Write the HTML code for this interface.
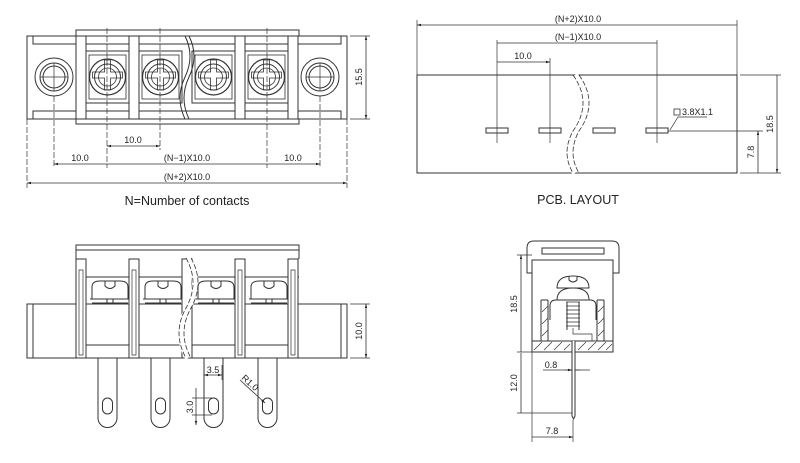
<!DOCTYPE html>
<html><head><meta charset="utf-8"><style>
html,body{margin:0;padding:0;background:#fff;width:800px;height:463px;overflow:hidden}
svg{display:block}
text{font-family:"Liberation Sans",sans-serif;fill:#222}
.d{font-size:9px}
</style></head><body>
<svg width="800" height="463" viewBox="0 0 800 463" xmlns="http://www.w3.org/2000/svg">
<defs>
<marker id="a" viewBox="0 0 10 10" refX="10" refY="5" markerWidth="7" markerHeight="5" orient="auto-start-reverse"><path d="M0,2 L10,5 L0,8z" fill="#222"/></marker>
<g id="cell">
 <rect x="0" y="0" width="43" height="52" fill="none" stroke="#333"/>
 <rect x="3" y="4" width="37" height="44" fill="none" stroke="#333" stroke-width="0.8"/>
 <circle cx="21.5" cy="26" r="18" fill="none" stroke="#333" stroke-width="1.2"/>
 <circle cx="21.5" cy="26" r="13" fill="none" stroke="#333"/>
 <circle cx="21.5" cy="26" r="9" fill="none" stroke="#333" stroke-width="0.8"/>
 <path d="M18.5,9 v12 h-12 v6 h12 v12 h6 v-12 h12 v-6 h-12 v-12z" fill="none" stroke="#333" stroke-width="0.8"/>
</g>
<g id="pin">
 <path d="M0,0 V60 a9.5,9.5 0 0 0 19,0 V0" fill="#fff" stroke="#333"/>
 <rect x="4.5" y="40" width="10" height="16" rx="5" fill="none" stroke="#333"/>
</g>
<g id="scr">
 <path d="M4,22 V10 q0,-6 8,-6 h20 q8,0 8,6 V22" fill="none" stroke="#333"/>
 <path d="M17,4 v5 q5,5 10,0 v-5" fill="none" stroke="#333"/>
 <path d="M2,22 h40 M4,26 h36" stroke="#333" fill="none"/>
 <rect x="19" y="22" width="6" height="4" fill="none" stroke="#333"/>
</g>
</defs>
<g stroke="#333" fill="none" stroke-width="1">
<!-- ===== TOP LEFT ===== -->
<rect x="76" y="30" width="223" height="94"/>
<rect x="27" y="36" width="320" height="83" fill="#fff"/>
<path d="M33,36 V44 H341 V36 M33,119 V111 H341 V119"/>
<use href="#cell" x="86" y="51"/><use href="#cell" x="139" y="51"/><use href="#cell" x="192" y="51"/><use href="#cell" x="245" y="51"/>
<g fill="#fff">
<rect x="76" y="36" width="10" height="83"/><rect x="129" y="36" width="10" height="83"/><rect x="235" y="36" width="10" height="83"/><rect x="288" y="36" width="10" height="83"/>
</g>
<circle cx="54" cy="77" r="19"/><circle cx="54" cy="77" r="14"/><circle cx="54" cy="77" r="11"/>
<circle cx="320" cy="77" r="19"/><circle cx="320" cy="77" r="14"/><circle cx="320" cy="77" r="11"/>
<path d="M185,36 q10,20 0,41 q-10,21 0,42 M189,36 q10,20 0,41 q-10,21 0,42" stroke="#333"/>
<path d="M40,77 h28 M54,63 v28 M306,77 h28 M320,63 v28" stroke-width="0.7"/>
<path d="M107,28 V168 M160,28 V150 M267,28 V168 M54,96 V168 M320,96 V168 M27,119 V188 M347,119 V188" stroke-width="0.7" stroke-dasharray="6,2"/>
<path d="M107,146 H160" marker-start="url(#a)" marker-end="url(#a)" stroke-width="0.8"/>
<path d="M54,164 H107 M107,164 H267 M267,164 H320" marker-start="url(#a)" marker-end="url(#a)" stroke-width="0.8"/>
<path d="M27,183 H347" marker-start="url(#a)" marker-end="url(#a)" stroke-width="0.8"/>
<path d="M350,36 H370 M350,119 H370"  stroke-width="0.7"/>
<path d="M366,36 V119" marker-start="url(#a)" marker-end="url(#a)" stroke-width="0.8"/>
<!-- ===== TOP RIGHT ===== -->
<rect x="417" y="75" width="320" height="98"/>
<path d="M575,75 q20,28 0,56 q-12,22 0,42" stroke="#fff" stroke-width="6"/>
<path d="M573,75 q20,28 0,56 q-12,22 0,42 M579,75 q20,28 0,56 q-12,22 0,42" stroke-dasharray="5,2" stroke-width="0.8"/>
<path d="M417,20 V75 M737,20 V75 M497,40 V143 M657,40 V143 M550,58 V143" stroke-width="0.7"/>
<path d="M417,25 H737 M497,43 H657 M497,62 H550" marker-start="url(#a)" marker-end="url(#a)" stroke-width="0.8"/>
<rect x="486" y="128" width="22" height="5"/><rect x="539" y="128" width="22" height="5"/><rect x="593" y="128" width="22" height="5"/><rect x="646" y="128" width="22" height="5"/>
<path d="M668,131 H763 M670,130 L678,117 H707 M740,75 H781 M740,173 H781" stroke-width="0.7"/>
<rect x="674" y="109" width="6" height="6" stroke-width="0.8"/>
<path d="M758,131 V173 M777,75 V173" marker-start="url(#a)" marker-end="url(#a)" stroke-width="0.8"/>
<!-- ===== BOTTOM LEFT ===== -->
<path d="M76,259 V245 H299 V259 M76,250 H299 M76,277 H299"/>
<use href="#pin" x="98" y="358"/><use href="#pin" x="151" y="358"/><use href="#pin" x="204" y="358"/><use href="#pin" x="258" y="358"/>
<rect x="27" y="304" width="320" height="54" fill="#fff"/>
<path d="M33,304 V358 M341,304 V358 M86,345 H288"/>
<use href="#scr" x="88" y="277"/><use href="#scr" x="141" y="277"/><use href="#scr" x="194" y="277"/><use href="#scr" x="247" y="277"/>
<g fill="#fff">
<rect x="76" y="259" width="10" height="99"/><rect x="129" y="259" width="10" height="99"/><rect x="182" y="259" width="10" height="99"/><rect x="235" y="259" width="10" height="99"/><rect x="288" y="259" width="10" height="99"/>
</g>
<path d="M79,270 V355 h4 V270z M132,270 V355 h4 V270z M238,270 V355 h4 V270z M291,270 V355 h4 V270z" stroke-width="0.7"/>
<path d="M188,258 q14,25 0,50 q-14,25 0,50" stroke="#fff" stroke-width="6"/>
<path d="M186,258 q14,25 0,50 q-14,25 0,50 M191,258 q14,25 0,50 q-14,25 0,50" stroke-dasharray="5,2" stroke-width="0.8"/>
<path d="M350,304 H370 M350,358 H370" stroke-width="0.7"/>
<path d="M366,304 V358" marker-start="url(#a)" marker-end="url(#a)" stroke-width="0.8"/>
<path d="M204,365 V380 M222,365 V380" stroke-width="0.7"/>
<path d="M204,375 H222" marker-start="url(#a)" marker-end="url(#a)" stroke-width="0.8"/>
<path d="M192,398 H212 M192,415 H212" stroke-width="0.7"/>
<path d="M196,388 V398 M196,415 V425" marker-end="url(#a)" stroke-width="0.8"/>
<path d="M196,398 V415" stroke-width="0.8"/>
<path d="M240,380 L265,403" marker-end="url(#a)" stroke-width="0.8"/>
<!-- ===== BOTTOM RIGHT ===== -->
<path d="M527,273 V248 q0,-7 7,-7 H612 q7,0 7,7 V273 H613 V260 H532 V273z"/>
<rect x="542" y="248" width="62" height="6"/>
<path d="M532,260 V352 H613 V260"/>
<path d="M532,341 H613 M548,300 V341 M597,300 V341 M541,300 h7 M597,300 h7 M541,300 V341 M604,300 V341"/>
<g stroke-width="0.7">
<path d="M534,350 l8,-8 M544,350 l8,-8 M554,350 l8,-8 M564,350 l6,-6 M578,350 l8,-8 M588,350 l8,-8 M598,350 l8,-8 M606,350 l6,-6 M542,312 l6,-6 M542,324 l6,-6 M542,336 l6,-6 M598,312 l6,-6 M598,324 l6,-6 M598,336 l6,-6"/>
</g>
<path d="M550,320 V306 q0,-6 6,-6 h34 q6,0 6,6 V320"/>
<path d="M557,300 q0,-12 16,-12 q16,0 16,12"/>
<path d="M557,288 q0,-12 16,-12 q16,0 16,12 z"/>
<path d="M569,276 v4 q4,4 8,0 v-4"/>
<path d="M566,302 h14 M566,306 h14 M566,310 h14 M566,314 h14 M566,318 h14 M566,322 h14 M566,326 h14" stroke-width="0.8"/>
<path d="M567,302 V330 M579,302 V330"/>
<path d="M572,341 V416 l1.5,3 l1.5,-3 V341" fill="#fff"/>
<path d="M573,328 V334 H592 V341" stroke-width="0.7"/>
<path d="M532,352 V442 M573,420 V442 M517,255 H532 M517,352 H532 M517,413 H572" stroke-width="0.7"/>
<path d="M521,255 V352 M521,353 V413 M532,437 H573" marker-start="url(#a)" marker-end="url(#a)" stroke-width="0.8"/>
<path d="M543,370 H572 M590,370 H575" stroke-width="0.7"/>
<path d="M580,370 H575 M565,370 H572" marker-end="url(#a)" stroke-width="0.8"/>
</g>
<!-- TEXT -->
<text class="d" x="133" y="143" text-anchor="middle">10.0</text>
<text class="d" x="80" y="161" text-anchor="middle">10.0</text>
<text class="d" x="187" y="161" text-anchor="middle">(N−1)X10.0</text>
<text class="d" x="293" y="161" text-anchor="middle">10.0</text>
<text class="d" x="187" y="180" text-anchor="middle">(N+2)X10.0</text>
<text x="187" y="205" text-anchor="middle" font-size="12.5">N=Number of contacts</text>
<text class="d" transform="translate(362,77) rotate(-90)" text-anchor="middle">15.5</text>
<text class="d" x="578" y="22" text-anchor="middle">(N+2)X10.0</text>
<text class="d" x="578" y="40" text-anchor="middle">(N−1)X10.0</text>
<text class="d" x="523" y="59" text-anchor="middle">10.0</text>
<text class="d" x="682" y="115">3.8X1.1</text>
<text class="d" transform="translate(773,124) rotate(-90)" text-anchor="middle">18.5</text>
<text class="d" transform="translate(754,152) rotate(-90)" text-anchor="middle">7.8</text>
<text x="578" y="204" text-anchor="middle" font-size="12.5">PCB. LAYOUT</text>
<text class="d" transform="translate(362,331) rotate(-90)" text-anchor="middle">10.0</text>
<text class="d" x="213" y="373" text-anchor="middle">3.5</text>
<text class="d" transform="translate(193,407) rotate(-90)" text-anchor="middle">3.0</text>
<text class="d" transform="translate(248,385) rotate(42)" text-anchor="middle">R1.0</text>
<text class="d" transform="translate(517,304) rotate(-90)" text-anchor="middle">18.5</text>
<text class="d" transform="translate(517,383) rotate(-90)" text-anchor="middle">12.0</text>
<text class="d" x="551" y="368" text-anchor="middle">0.8</text>
<text class="d" x="552" y="434" text-anchor="middle">7.8</text>
</svg>
</body></html>
